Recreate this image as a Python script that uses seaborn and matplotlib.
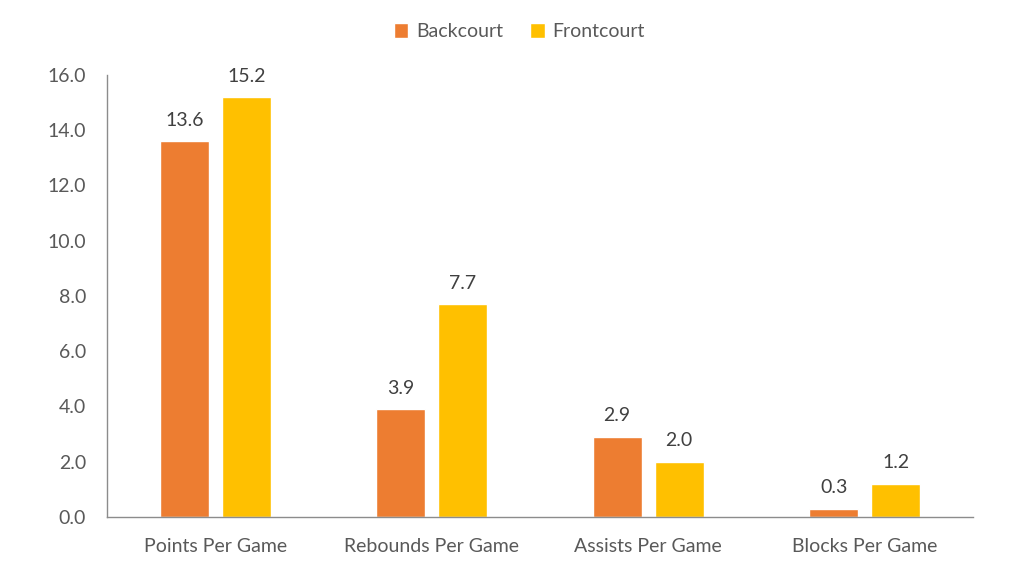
import matplotlib
matplotlib.use("Agg")
import matplotlib.pyplot as plt
import seaborn as sns
import pandas as pd
from matplotlib.ticker import FormatStrFormatter

categories = ["Points Per Game", "Rebounds Per Game", "Assists Per Game", "Blocks Per Game"]
backcourt = [13.6, 3.9, 2.9, 0.3]
frontcourt = [15.2, 7.7, 2.0, 1.2]
series = ["Backcourt", "Frontcourt"]
yticks = [0, 2, 4, 6, 8, 10, 12, 14, 16]

df = pd.DataFrame({
    "cat": categories * 2,
    "val": backcourt + frontcourt,
    "series": [series[0]] * 4 + [series[1]] * 4,
})

sns.set_theme(style="white")
plt.rcParams["font.family"] = ["Lato", "DejaVu Sans"]
txt = "#595959"

fig = plt.figure(figsize=(10.24, 5.83), dpi=100)
ax = fig.add_axes([0.1045, 0.1132, 0.8455, 0.7582])
sns.barplot(data=df, x="cat", y="val", hue="series",
            palette=["#ED7D31", "#FFC000"], width=0.573, gap=0.21,
            ax=ax, legend=True, saturation=1)

for c in ax.containers:
    ax.bar_label(c, fmt="%.1f", padding=9, fontsize=14, color="#404040")

ax.set_ylim(0, 16)
ax.set_yticks(yticks)
ax.yaxis.set_major_formatter(FormatStrFormatter("%.1f"))
ax.set_xlim(-0.5, 3.5)
ax.set_xlabel("")
ax.set_ylabel("")
ax.tick_params(axis="both", length=0, labelsize=14, colors=txt)
ax.tick_params(axis="y", pad=15)
ax.tick_params(axis="x", pad=15)
for s in ["top", "right"]:
    ax.spines[s].set_visible(False)
for s in ["left", "bottom"]:
    ax.spines[s].set_color("#8c8c8c")
    ax.spines[s].set_linewidth(1.0)

handles, labels = ax.get_legend_handles_labels()
ax.get_legend().remove()
fig.legend(handles, labels, loc="upper center", bbox_to_anchor=(0.507, 0.99),
           ncol=2, frameon=False, fontsize=14, labelcolor=txt,
           handlelength=0.75, handleheight=0.75, handletextpad=0.4, columnspacing=1.4)

fig.savefig("out.png", dpi=100)
